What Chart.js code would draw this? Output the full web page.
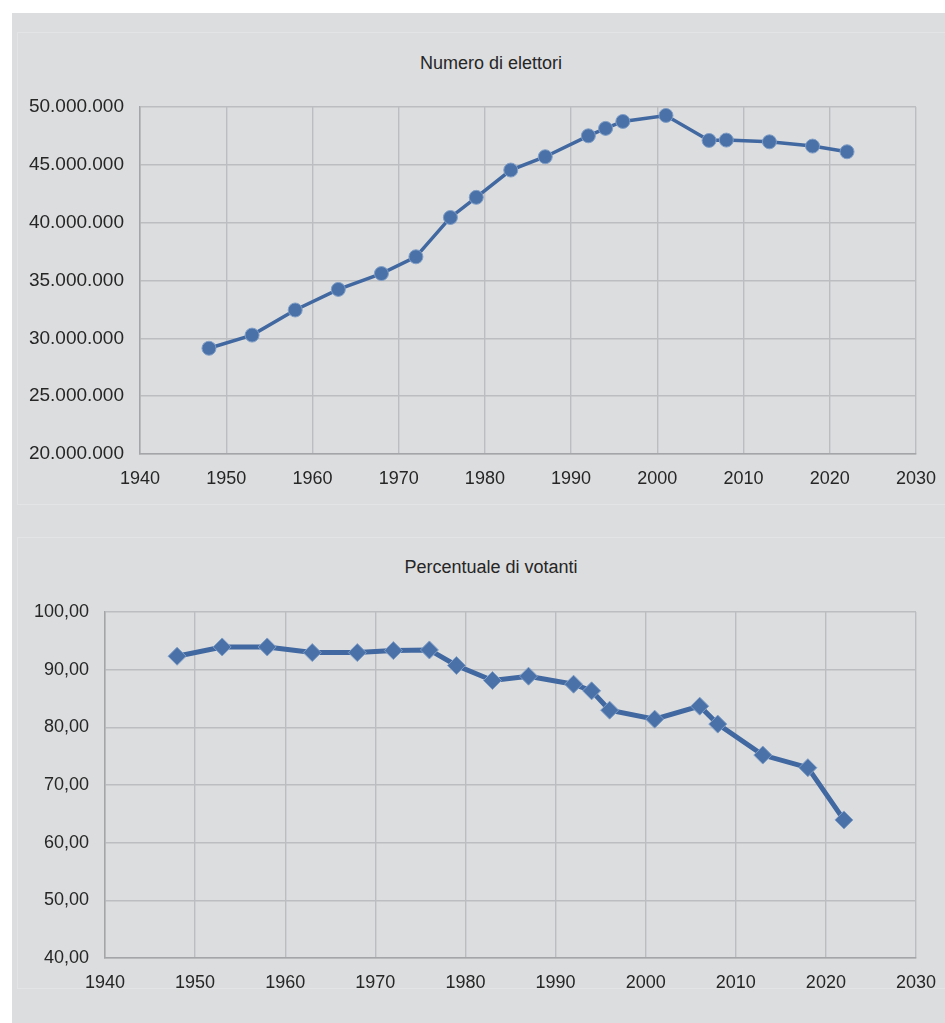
<!DOCTYPE html>
<html>
<head>
    <title>Elettori e votanti</title>
    <script src="https://cdn.jsdelivr.net/npm/chart.js"></script>
    <style>
        body { margin: 0; background: #ffffff; overflow: hidden; }
        #panel {
            position: absolute; left: 12px; top: 13px; right: 0; bottom: 0;
            background: #dcdddf;
        }
        .box {
            position: absolute; left: 17px; width: 928px;
            border-top: 1px solid #e3e4e6; border-left: 1px solid #e3e4e6;
        }
        #box1 { top: 32px; height: 471px; border-bottom: 1px solid #e3e4e6; }
        #box2 { top: 537px; height: 450px; border-bottom: 1px solid #e3e4e6; }
        canvas { position: absolute; left: 17px; }
        #elettoriChart { top: 32px; }
        #votantiChart { top: 537px; }
        .title {
            position: absolute; left: 391px; width: 200px; text-align: center;
            font: 18px "Liberation Sans", Arial, sans-serif; color: #262626;
            line-height: 22px; white-space: nowrap;
        }
        #title1 { top: 52px; }
        #title2 { top: 556px; }
    </style>
</head>
<body>
    <div id="panel"></div>
    <div class="box" id="box1"></div>
    <div class="box" id="box2"></div>
    <div class="title" id="title1">Numero di elettori</div>
    <div class="title" id="title2">Percentuale di votanti</div>
    <canvas id="elettoriChart" width="928" height="471"></canvas>
    <canvas id="votantiChart" width="928" height="486"></canvas>

    <script>
        const years = [1948, 1953, 1958, 1963, 1968, 1972, 1976, 1979, 1983, 1987,
                       1992, 1994, 1996, 2001, 2006, 2008, 2013, 2018, 2022];
        const elettori = [29140000, 30280000, 32450000, 34230000, 35600000, 37050000, 40450000,
                          42190000, 44550000, 45700000, 47510000, 48150000, 48750000, 49270000,
                          47110000, 47140000, 46990000, 46620000, 46130000];
        const votanti = [92.33, 93.94, 93.94, 92.96, 92.96, 93.31, 93.42, 90.72, 88.12, 88.87,
                         87.48, 86.33, 82.98, 81.42, 83.67, 80.56, 75.19, 73.00, 63.94];
        const xTicks = [1940, 1950, 1960, 1970, 1980, 1990, 2000, 2010, 2020, 2030];

        const lineColor = '#4168a0';
        const textColor = '#262626';
        const fontFamily = '"Liberation Sans", Arial, sans-serif';

        function points(values) {
            return years.map((y, i) => ({ x: y, y: values[i] }));
        }

        function makeChart(id, opts) {
            const ctx = document.getElementById(id).getContext('2d');
            return new Chart(ctx, {
                type: 'line',
                data: {
                    datasets: [{
                        data: points(opts.values),
                        borderColor: lineColor,
                        borderWidth: opts.lineWidth,
                        backgroundColor: '#4a72a8',
                        pointStyle: opts.pointStyle,
                        pointRadius: opts.pointRadius,
                        pointBorderColor: '#7f9dc6',
                        pointBorderWidth: 1,
                        tension: 0
                    }]
                },
                options: {
                    responsive: false,
                    animation: false,
                    layout: { padding: { left: 0, right: 29, top: 75, bottom: 0 } },
                    plugins: {
                        legend: { display: false },
                        tooltip: { enabled: false }
                    },
                    scales: {
                        x: {
                            type: 'linear',
                            min: 1940,
                            max: 2030,
                            afterBuildTicks: scale => { scale.ticks = xTicks.map(v => ({ value: v })); },
                            afterFit: scale => {
                                scale.height = opts.xHeight;
                                // let the layout padding alone decide the right edge
                                scale.paddingLeft = 0;
                                scale.paddingRight = 0;
                            },
                            ticks: {
                                color: textColor,
                                font: { family: fontFamily, size: 18 },
                                padding: 14,
                                maxRotation: 0,
                                callback: v => String(v)
                            },
                            grid: { color: '#bcbdc0', lineWidth: 1.4, drawTicks: false },
                            border: { color: '#a4a5a8', width: 1.5 }
                        },
                        y: {
                            min: opts.yMin,
                            max: opts.yMax,
                            afterBuildTicks: scale => { scale.ticks = opts.yTicks.map(v => ({ value: v })); },
                            afterFit: scale => {
                                scale.width = opts.yWidth;
                                scale.paddingTop = 0;
                                scale.paddingBottom = 0;
                            },
                            ticks: {
                                color: textColor,
                                font: { family: fontFamily, size: opts.yFont },
                                padding: 16,
                                callback: opts.yLabel
                            },
                            grid: { color: '#bcbdc0', lineWidth: 1.4, drawTicks: false },
                            border: { color: '#a4a5a8', width: 1.5 }
                        }
                    }
                }
            });
        }

        makeChart('elettoriChart', {
            values: elettori,
            lineWidth: 3.5,
            pointStyle: 'circle',
            pointRadius: 7,
            yMin: 20000000,
            yMax: 50000000,
            yTicks: [20000000, 25000000, 30000000, 35000000, 40000000, 45000000, 50000000],
            yLabel: v => v.toLocaleString('it-IT').replace(/\s/g, '.'),
            yFont: 19,
            yWidth: 123,
            xHeight: 49
        });

        makeChart('votantiChart', {
            values: votanti,
            lineWidth: 5,
            pointStyle: 'rectRot',
            pointRadius: 9,
            yMin: 40,
            yMax: 100,
            yTicks: [40, 50, 60, 70, 80, 90, 100],
            yLabel: v => v.toFixed(2).replace('.', ','),
            yFont: 18,
            yWidth: 88,
            xHeight: 65
        });
    </script>
</body>
</html>
